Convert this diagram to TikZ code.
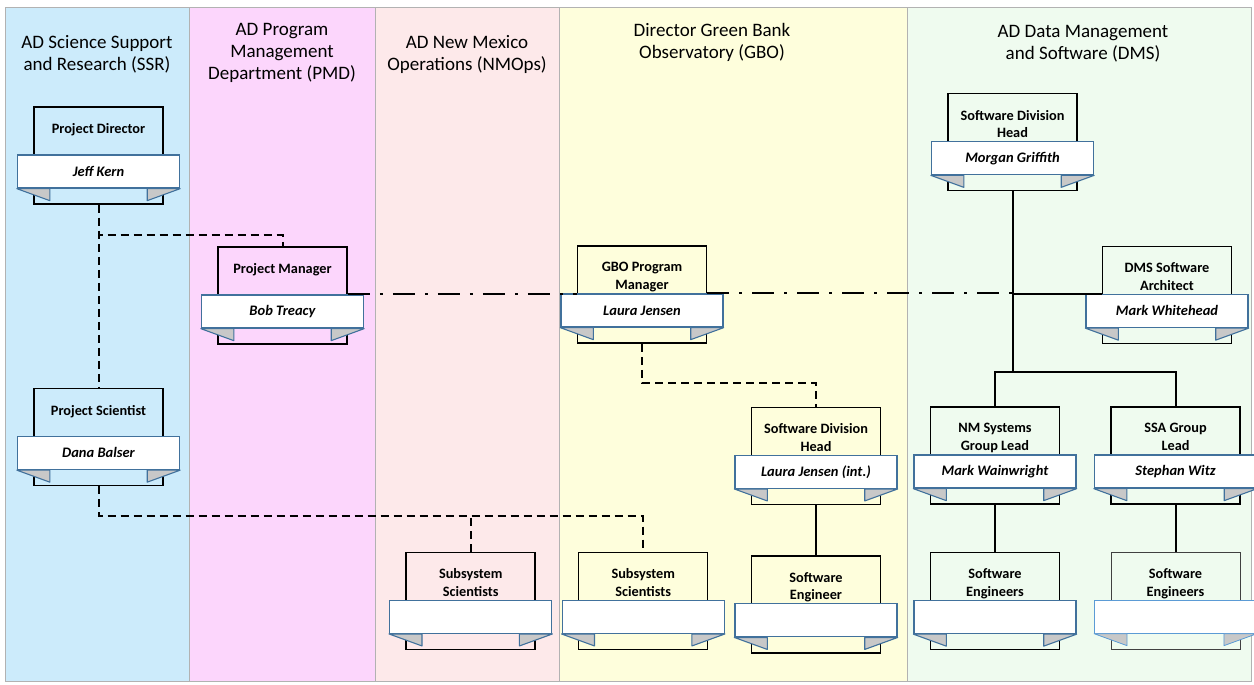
\documentclass[tikz,border=0pt]{standalone}
\usepackage{fontspec}
\setmainfont{Carlito}
\usetikzlibrary{positioning}
\definecolor{ssrblue}{HTML}{CCEBFB}
\definecolor{pmdpink}{HTML}{FCD6FC}
\definecolor{nmrose}{HTML}{FDE9EA}
\definecolor{gboyellow}{HTML}{FEFEDC}
\definecolor{dmsgreen}{HTML}{EFFBEF}
\definecolor{ribbonblue}{HTML}{41719C}
\definecolor{lightribbon}{HTML}{5B9BD5}
\definecolor{foldgray}{HTML}{C8C8C8}
\tikzset{lane/.style={draw=black!30,line width=0.6pt,fill=#1},
lane title/.style={font=\fontsize{19}{22}\selectfont,align=center,inner sep=0pt},
role box/.style={draw,line width=1.5pt,minimum width=129pt,minimum height=97pt,inner sep=0pt},
role text/.style={font=\bfseries\fontsize{14.3}{17.5}\selectfont,align=center,inner sep=0pt,anchor=north},
ribbon/.style={draw=ribbonblue,line width=1.4pt,fill=white,minimum width=162pt,minimum height=33pt,inner sep=0pt,anchor=north,font=\bfseries\itshape\fontsize{14.5}{16}\selectfont},
ribbon fold/.style={draw=ribbonblue,line width=1.1pt,fill=foldgray,line join=round},
faint/.style={role box/.append style={line width=0.9pt,draw=black!75},
  ribbon/.append style={line width=0.9pt,draw=lightribbon},
  ribbon fold/.append style={line width=0.8pt,draw=lightribbon}},
solid link/.style={line width=2pt},
dashed link/.style={line width=2pt,dash pattern=on 8pt off 5pt},
dotdash link/.style={line width=2pt,dash pattern=on 22pt off 10pt on 3pt off 10pt}}
\newcommand{\rolebox}[4]{%
\node[role box] (#1) [#2] {};
\node[role text] (#1-t) at ([yshift=-17pt]#1.north) {#3};
\node[ribbon] (#1-r) at ([yshift=-48pt]#1.north) {#4};
\path[ribbon fold] (#1-r.south west) -- ++(33,12) -- ++(0,-12) -- cycle;
\path[ribbon fold] (#1-r.south east) -- ++(-33,12) -- ++(0,-12) -- cycle;}
\begin{document}
\begin{tikzpicture}[x=1pt,y=-1pt]
\useasboundingbox (0,0) rectangle (1254,685);
\path[lane=ssrblue] (5,7) rectangle (189,681);
\path[lane=pmdpink] (189,7) rectangle (375,681);
\path[lane=nmrose] (375,7) rectangle (559,681);
\path[lane=gboyellow] (559,7) rectangle (907,681);
\path[lane=dmsgreen] (907,7) rectangle (1251,681);
\node[lane title] (ssr) at (97,54) {AD Science Support\\and Research (SSR)};
\node[lane title] (pmd) at (282,53) {AD Program\\Management\\Department (PMD)};
\node[lane title] (nmops) at (467,54) {AD New Mexico\\Operations (NMOps)};
\node[lane title] (gbo) at (712,42) {Director Green Bank\\Observatory (GBO)};
\node[lane title] (dms) at (1083,44) {AD Data Management\\and Software (DMS)};
\rolebox{dir}{at={(98.5,155.5)}}{Project Director}{Jeff Kern}
\rolebox{ps}{below=183pt of dir}{Project Scientist}{Dana Balser}
\rolebox{pm}{at={(282.5,295.5)}}{Project Manager}{Bob Treacy}
\rolebox{nmss}{at={(470.7,600.8)}}{Subsystem\\Scientists}{}
\rolebox{gbopm}{at={(642,294.5)}}{GBO Program\\Manager}{Laura Jensen}
\rolebox{gboss}{right=42pt of nmss}{Subsystem\\Scientists}{}
\rolebox{gbosdh}{at={(816,455.8)}}{Software Division\\Head}{Laura Jensen (int.)}
\rolebox{gbose}{below=50pt of gbosdh}{Software\\Engineer}{}
\rolebox{dmssdh}{at={(1012.5,142.2)}}{Software Division\\Head}{Morgan Griffith}
\rolebox{dmsarch}{at={(1167,295)}}{DMS Software\\Architect}{Mark Whitehead}
\rolebox{nmlead}{at={(995,455.5)}}{NM Systems\\Group Lead}{Mark Wainwright}
\rolebox{ssalead}{right=50pt of nmlead}{SSA Group\\Lead}{Stephan Witz}
\rolebox{nmse}{below=47pt of nmlead}{Software\\Engineers}{}
\begin{scope}[faint]
\rolebox{ssase}{below=47pt of ssalead}{Software\\Engineers}{}
\end{scope}
\draw[dashed link] (dir) -- (ps);
\draw[dashed link] (dir.south) -- ++(0,30) -| (pm.north);
\draw[dashed link] (ps.south) -- ++(0,30) coordinate (sci bus) -| (gboss.north);
\draw[dashed link] (nmss.north) -- (nmss.north |- sci bus);
\draw[dashed link] (gbopm.south) -- ++(0,39) -| (gbosdh.north);
\draw[dotdash link] (pm.east |- pm-r.north) -- (gbopm.west |- pm-r.north);
\draw[dotdash link] (gbopm.east |- gbopm-r.north) -- (dmssdh.south |- gbopm-r.north);
\draw[solid link] (dmsarch.west |- dmsarch-r.north) -- (dmssdh.south |- dmsarch-r.north);
\draw[solid link] (dmssdh.south) -- ++(0,181) -| (nmlead.north);
\draw[solid link] (dmssdh.south) -- ++(0,181) -| (ssalead.north);
\draw[solid link] (gbosdh) -- (gbose);
\draw[solid link] (nmlead) -- (nmse);
\draw[solid link] (ssalead) -- (ssase);
\end{tikzpicture}
\end{document}
